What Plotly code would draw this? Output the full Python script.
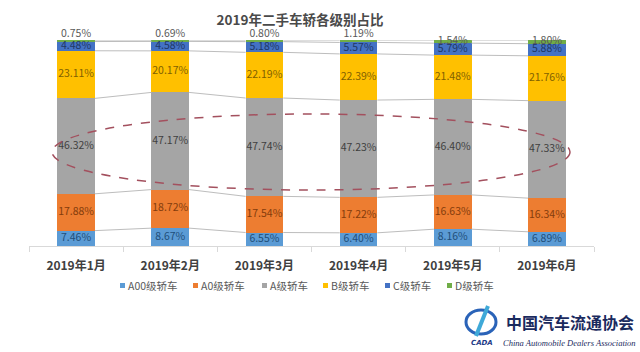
import plotly.graph_objects as go

months = ["2019年1月", "2019年2月", "2019年3月", "2019年4月", "2019年5月", "2019年6月"]
series_names = ["A00级轿车", "A0级轿车", "A级轿车", "B级轿车", "C级轿车", "D级轿车"]
a00 = [7.46, 8.67, 6.55, 6.40, 8.16, 6.89]
a0 = [17.88, 18.72, 17.54, 17.22, 16.63, 16.34]
a = [46.32, 47.17, 47.74, 47.23, 46.40, 47.33]
b = [23.11, 20.17, 22.19, 22.39, 21.48, 21.76]
c = [4.48, 4.58, 5.18, 5.57, 5.79, 5.88]
d = [0.75, 0.69, 0.80, 1.19, 1.54, 1.80]

series = [a00, a0, a, b, c, d]
colors = ["#5B9BD5", "#ED7D31", "#A5A5A5", "#FFC000", "#4472C4", "#70AD47"]
label_colors = ["#1F4E79", "#843C0C", "#3F3F3F", "#7F6000", "#1F3864", "#595959"]

xs = list(range(len(months)))
bw = 0.4

# plot area in pixels (for paper-coordinate helpers)
L, R, T, B = 29, 594, 40, 246


def px(x):
    return (x - L) / (R - L)


def py(y):
    return (B - y) / (B - T)


fig = go.Figure()

cums = [[0.0] * len(months)]
for s in series:
    cums.append([cums[-1][i] + s[i] for i in xs])

# series lines between bars
for lvl in cums[1:]:
    lx, ly = [], []
    for i in xs[:-1]:
        lx += [i + bw / 2, i + 1 - bw / 2, None]
        ly += [lvl[i], lvl[i + 1], None]
    fig.add_trace(go.Scatter(x=lx, y=ly, mode="lines", line=dict(color="#BDBDBD", width=1),
                             showlegend=False, hoverinfo="skip"))

for k, (name, s) in enumerate(zip(series_names, series)):
    fig.add_trace(go.Bar(x=xs, y=s, name=name, width=bw, showlegend=False,
                         marker=dict(color=colors[k], line_width=0)))

# data labels
for k, s in enumerate(series):
    ys, pos = [], []
    for i in xs:
        mid = cums[k][i] + s[i] / 2
        if k == 5 and s[i] < 1.3:
            ys.append(cums[6][i])
            pos.append("top center")
        else:
            ys.append(mid)
            pos.append("middle center")
    fig.add_trace(go.Scatter(x=xs, y=ys, mode="text", text=[f"{v:.2f}%" for v in s],
                             textposition=pos,
                             textfont=dict(size=10.5, color=label_colors[k], family="Noto Sans CJK SC"),
                             showlegend=False, hoverinfo="skip", cliponaxis=False))

fig.update_layout(
    width=640, height=352,
    margin=dict(l=L, r=640 - R, t=T, b=352 - B),
    barmode="stack",
    paper_bgcolor="white", plot_bgcolor="white",
    font=dict(family="Noto Sans CJK SC", color="#595959"),
    title=dict(text="<b>2019年二手车轿各级别占比</b>", x=300 / 640, xanchor="center",
               y=1 - 20 / 352, yanchor="middle", font=dict(size=13.5, color="#4A4A4A")),
    showlegend=False,
    xaxis=dict(range=[-0.5, 5.5], tickvals=xs, ticktext=[f"<b>{m}</b>" for m in months], ticks="",
               showgrid=False, zeroline=False, showline=True, linecolor="#D9D9D9", linewidth=1,
               ticklabelstandoff=9,
               tickfont=dict(size=12, color="#404040", family="Noto Sans CJK SC"),
               minor=dict(tickvals=[i - 0.5 for i in range(7)], ticks="outside", ticklen=5,
                          tickcolor="#D9D9D9")),
    yaxis=dict(range=[0, 100], visible=False, showgrid=False, zeroline=False),
)

# legend drawn manually (compact, like the reference)
leg_x = [120, 193, 262, 323, 385, 447]
for k, name in enumerate(series_names):
    x0 = leg_x[k]
    fig.add_shape(type="rect", xref="paper", yref="paper", x0=px(x0), x1=px(x0 + 5),
                  y0=py(288), y1=py(283), fillcolor=colors[k], line_width=0)
    fig.add_annotation(text=name, xref="paper", yref="paper", x=px(x0 + 6), y=py(285.5),
                       xanchor="left", yanchor="middle", showarrow=False,
                       font=dict(size=10.5, color="#595959", family="Noto Sans CJK SC"))

# dashed ellipse highlighting A-class
fig.add_shape(type="circle", xref="paper", yref="paper", x0=px(52), x1=px(570),
              y0=py(190), y1=py(114), line=dict(color="#A3505E", width=1.5, dash="dash"),
              layer="above")

# logo
fig.add_shape(type="circle", xref="paper", yref="paper", x0=px(466), x1=px(496),
              y0=py(334), y1=py(310), line=dict(color="#2A63B8", width=3))
fig.add_shape(type="line", xref="paper", yref="paper", x0=px(476), x1=px(488),
              y0=py(336), y1=py(306), line=dict(color="#3FA9D8", width=4))
fig.add_annotation(text="<b><i>CADA</i></b>", xref="paper", yref="paper", x=px(482), y=py(343),
                   xanchor="center", yanchor="middle", showarrow=False,
                   font=dict(size=7, color="#1F3C88", family="DejaVu Sans"))
fig.add_annotation(text="<b>中国汽车流通协会</b>", xref="paper", yref="paper", x=px(570), y=py(322),
                   xanchor="center", yanchor="middle", showarrow=False,
                   font=dict(size=16, color="#1A2A5E", family="Noto Sans CJK SC"))
fig.add_annotation(text="<i>China Automobile Dealers Association</i>", xref="paper", yref="paper",
                   x=px(569), y=py(343), xanchor="center", yanchor="middle", showarrow=False,
                   font=dict(size=8.5, color="#1A2A5E", family="Liberation Serif"))

fig.write_html("out.html")
